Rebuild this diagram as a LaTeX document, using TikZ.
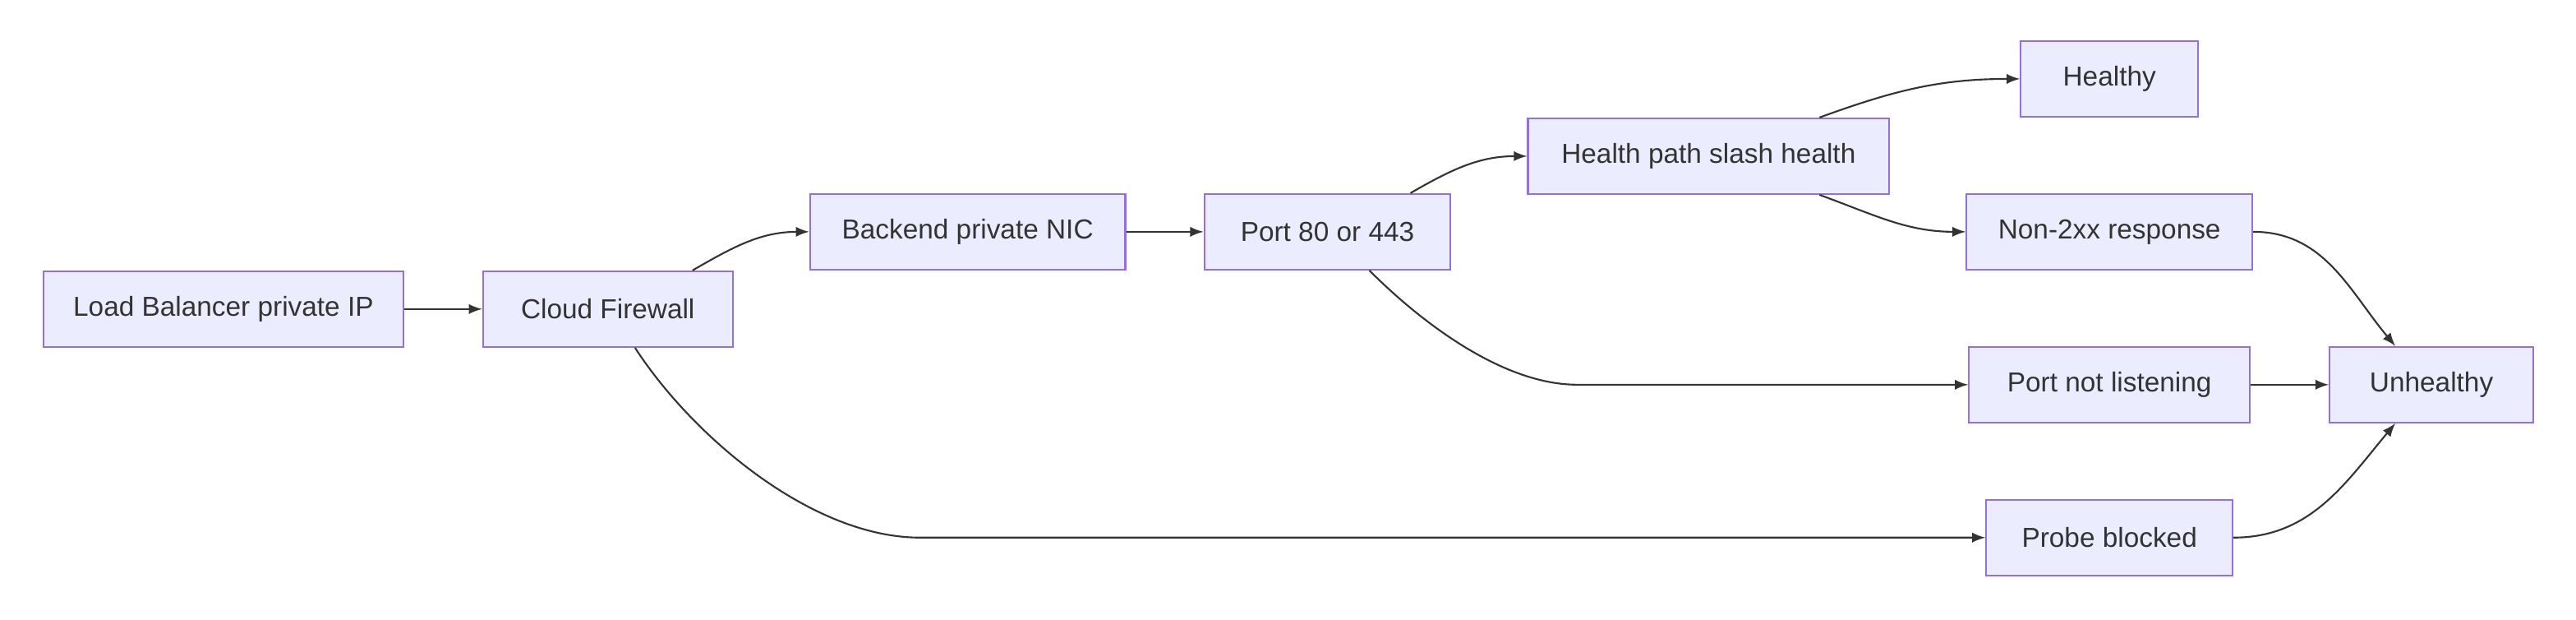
\documentclass[tikz,border=0pt]{standalone}
\usepackage{fontspec}
\setmainfont{Liberation Sans}
\usetikzlibrary{positioning}
\definecolor{boxfill}{HTML}{ECECFF}
\definecolor{boxline}{HTML}{9370DB}
\definecolor{edge}{HTML}{333333}
\tikzset{
  box/.style={rectangle, draw=boxline, fill=boxfill, semithick, minimum height=0.92cm, font=\fontsize{9.5}{11}\selectfont, text=edge},
  flow/.style={draw=edge, semithick, -latex},
}
\begin{document}
\begin{tikzpicture}[x=0.02cm,y=-0.02cm]
\useasboundingbox (0,0) rectangle (1568,377);

\node at (136,188) [box, minimum width=4.38cm] (lb) {Load Balancer private IP};
\node at (370,188) [box, minimum width=3.04cm] (fw) {Cloud Firewall};
\node at (589,141) [box, minimum width=3.84cm] (nic) {Backend private NIC};
\node at (808,141) [box, minimum width=3.0cm] (port) {Port 80 or 443};
\node at (1040,95) [box, minimum width=4.4cm] (hp) {Health path slash health};
\node at (1284,48) [box, minimum width=2.16cm] (ok) {Healthy};
\node at (1284,141) [box, minimum width=3.48cm] (non) {Non-2xx response};
\node at (1284,234) [box, minimum width=3.42cm] (pnl) {Port not listening};
\node at (1284,327) [box, minimum width=3.0cm] (pb) {Probe blocked};
\node at (1480,234) [box, minimum width=2.48cm] (bad) {Unhealthy};

% bends of the long connectors
\coordinate (pbbend) at (560,327);
\coordinate (pnlbend) at (960,234);

\draw [flow] (lb) -- (fw);
\draw [flow] ([xshift=-0.5cm]fw.north east) to [out=30, in=180] (nic.west);
\draw [flow] ([xshift=-1.2cm]fw.south east) to [out=-57, in=180, looseness=0.8] (pbbend) -- (pb.west);
\draw [flow] (nic) -- (port);
\draw [flow] ([xshift=-0.5cm]port.north east) to [out=30, in=180] (hp.west);
\draw [flow] ([xshift=-1.0cm]port.south east) to [out=-45, in=180, looseness=0.8] (pnlbend) -- (pnl.west);
\draw [flow] ([xshift=-0.86cm]hp.north east) to [out=20, in=180] (ok.west);
\draw [flow] ([xshift=-0.86cm]hp.south east) to [out=-20, in=180] (non.west);
\draw [flow] (non.east) to [out=0, in=130] ([xshift=-0.44cm]bad.north);
\draw [flow] (pnl) -- (bad);
\draw [flow] (pb.east) to [out=0, in=-130] ([xshift=-0.44cm]bad.south);
\end{tikzpicture}
\end{document}
